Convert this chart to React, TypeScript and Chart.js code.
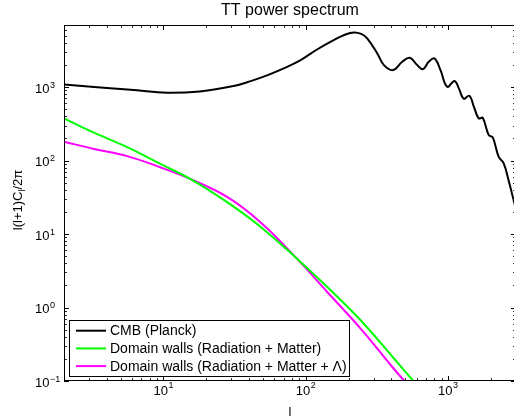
import React, { useEffect, useRef } from "react";
import { Chart, registerables } from "chart.js";

Chart.register(...registerables);

// ---- data ----
const cmbL = [2, 3.6, 6.2, 10.6, 18, 31, 41, 54, 70, 92, 120, 157, 190, 218, 245, 270, 318, 354, 411, 476, 538, 606, 667, 731, 802, 884, 985, 1109, 1190, 1286, 1409, 1518, 1640, 1750, 1930, 2060, 2265, 2455, 2660, 2885, 3000];
const cmbTT = [1088, 990, 912, 836, 874, 1032, 1207, 1456, 1796, 2328, 3250, 4350, 5200, 5550, 5300, 4600, 2870, 1993, 1703, 2210, 2508, 1993, 1758, 2210, 2455, 1703, 1009, 1207, 960, 693, 762, 540, 375, 382, 222, 207, 113, 92, 54, 29, 22];

const wallsRML = [2, 3.07, 5.56, 9.5, 15.5, 28, 48, 86, 141, 242, 415, 570];
const wallsRM = [375, 251, 152, 90, 56, 27.2, 12.6, 4.7, 1.92, 0.676, 0.204, 0.1];

const wallsRMLambdaL = [2, 3.24, 5.56, 9.5, 15.5, 28, 48, 86, 141, 242, 400, 493];
const wallsRMLambda = [181, 144, 115, 81, 56, 32, 14.5, 4.7, 1.64, 0.52, 0.16, 0.1];

const seriesLabels = [
  "CMB (Planck)",
  "Domain walls (Radiation + Matter)",
  "Domain walls (Radiation + Matter + \u039B)",
];
const seriesColors = ["#000000", "#00ff00", "#ff00ff"];

const xTickExps = [1, 2, 3];
const yTickExps = [-1, 0, 1, 2, 3];
const titleText = "TT power spectrum";
const xLabelText = "l";
const yLabelMain = "l(l+1)C";
const yLabelSub = "l";
const yLabelTail = "/2\u03C0";

const X_MIN = 2;
const X_MAX = 3000;
const Y_MIN = 0.1;
const Y_MAX = 7000;

const FONT = '"Liberation Sans", Arial, Helvetica, sans-serif';

const toPoints = (xs: number[], ys: number[]) => xs.map((x, i) => ({ x, y: ys[i] }));

const supText = (e: number) => (e < 0 ? "\u2212" + Math.abs(e) : String(e));

const matlabPlugin = {
  id: "matlabAxes",
  afterDatasetsDraw(chart: any) {
    const { ctx, chartArea: a, scales } = chart;
    const xs = scales.x;
    const ys = scales.y;
    ctx.save();

    const seg = (x1: number, y1: number, x2: number, y2: number) => {
      ctx.beginPath();
      ctx.moveTo(x1, y1);
      ctx.lineTo(x2, y2);
      ctx.stroke();
    };

    // ticks (inside, on all four sides)
    ctx.lineWidth = 1;
    for (let e = 0; e <= 4; e++) {
      for (let m = 1; m <= 9; m++) {
        const v = m * Math.pow(10, e);
        if (v < X_MIN || v > X_MAX) continue;
        const px = Math.round(xs.getPixelForValue(v)) + 0.5;
        const len = m === 1 ? 5 : 3;
        ctx.strokeStyle = m === 1 ? "#000" : "#333";
        seg(px, a.bottom, px, a.bottom - len);
        seg(px, a.top, px, a.top + len);
      }
    }
    for (let e = -1; e <= 4; e++) {
      for (let m = 1; m <= 9; m++) {
        const v = m * Math.pow(10, e);
        if (v < Y_MIN * 0.999 || v > Y_MAX) continue;
        const py = Math.round(ys.getPixelForValue(v)) + 0.5;
        const len = m === 1 ? 5 : 3;
        ctx.strokeStyle = m === 1 ? "#000" : "#333";
        seg(a.left, py, a.left + len, py);
        seg(a.right, py, a.right - len, py);
      }
    }

    // box
    ctx.strokeStyle = "#000";
    ctx.lineWidth = 1;
    ctx.strokeRect(a.left + 0.5, a.top + 0.5, a.right - a.left - 1, a.bottom - a.top - 1);

    // tick labels
    ctx.fillStyle = "#000";
    ctx.textBaseline = "alphabetic";
    const big = `13px ${FONT}`;
    const small = `9px ${FONT}`;
    for (const e of yTickExps) {
      const py = ys.getPixelForValue(Math.pow(10, e));
      ctx.font = big;
      ctx.textAlign = "left";
      ctx.fillText("10", 35, py + 5.6);
      const w = ctx.measureText("10").width;
      ctx.font = small;
      ctx.fillText(supText(e), 35 + w + 0.5, py + 0.6);
    }
    for (const e of xTickExps) {
      const px = xs.getPixelForValue(Math.pow(10, e));
      ctx.font = big;
      const w1 = ctx.measureText("10").width;
      ctx.font = small;
      const w2 = ctx.measureText(supText(e)).width;
      const start = px - (w1 + w2 + 0.5) / 2;
      ctx.textAlign = "left";
      ctx.font = big;
      ctx.fillText("10", start, 395);
      ctx.font = small;
      ctx.fillText(supText(e), start + w1 + 0.5, 388);
    }

    // title
    const cx = (a.left + a.right) / 2;
    ctx.font = `16px ${FONT}`;
    ctx.textAlign = "center";
    ctx.fillText(titleText, cx, 14.5);

    // x label
    ctx.font = `13px ${FONT}`;
    ctx.fillText(xLabelText, cx, 416);

    // y label (rotated, with subscript)
    ctx.save();
    ctx.translate(22, 200);
    ctx.rotate(-Math.PI / 2);
    ctx.textAlign = "left";
    ctx.font = `13px ${FONT}`;
    const wA = ctx.measureText(yLabelMain).width;
    const wC = ctx.measureText(yLabelTail).width;
    ctx.font = `9px ${FONT}`;
    const wB = ctx.measureText(yLabelSub).width;
    let sx = -(wA + wB + wC) / 2;
    ctx.font = `13px ${FONT}`;
    ctx.fillText(yLabelMain, sx, 0);
    sx += wA;
    ctx.font = `9px ${FONT}`;
    ctx.fillText(yLabelSub, sx, 3);
    sx += wB;
    ctx.font = `13px ${FONT}`;
    ctx.fillText(yLabelTail, sx, 0);
    ctx.restore();

    // legend
    const lx = 69.5;
    const ly = 320.5;
    const lw = 280;
    const lh = 56;
    ctx.fillStyle = "#fff";
    ctx.fillRect(lx, ly, lw, lh);
    ctx.strokeStyle = "#000";
    ctx.lineWidth = 1;
    ctx.strokeRect(lx, ly, lw, lh);
    ctx.font = `14px ${FONT}`;
    ctx.textAlign = "left";
    chart.data.datasets.forEach((ds: any, i: number) => {
      const rowY = 330.7 + i * 17.7;
      ctx.strokeStyle = ds.borderColor;
      ctx.lineWidth = 2;
      seg(76, rowY, 106, rowY);
      ctx.fillStyle = "#000";
      ctx.fillText(ds.label, 110, rowY + 4.4);
    });

    ctx.restore();
  },
};

export default function App() {
  const canvasRef = useRef<HTMLCanvasElement | null>(null);

  useEffect(() => {
    const canvas = canvasRef.current;
    if (!canvas) return;
    const seriesPoints = [
      toPoints(cmbL, cmbTT),
      toPoints(wallsRML, wallsRM),
      toPoints(wallsRMLambdaL, wallsRMLambda),
    ];
    const chart = new Chart(canvas, {
      type: "line",
      data: {
        datasets: seriesPoints.map((pts, i) => ({
          label: seriesLabels[i],
          data: pts,
          borderColor: seriesColors[i],
          backgroundColor: seriesColors[i],
          borderWidth: 2,
          pointRadius: 0,
          fill: false,
          tension: 0.4,
          borderJoinStyle: "round" as const,
        })),
      },
      options: {
        responsive: false,
        animation: false,
        devicePixelRatio: 1,
        layout: { padding: { left: 64, top: 25, right: 4, bottom: 37 } },
        plugins: {
          legend: { display: false },
          tooltip: { enabled: false },
          title: { display: false },
        },
        scales: {
          x: { type: "logarithmic", min: X_MIN, max: X_MAX, display: false },
          y: { type: "logarithmic", min: Y_MIN, max: Y_MAX, display: false },
        },
      },
      plugins: [matlabPlugin],
    });
    return () => chart.destroy();
  }, []);

  return (
    <div
      style={{
        position: "fixed",
        left: 0,
        top: 0,
        width: 514,
        height: 418,
        overflow: "hidden",
        background: "#fff",
      }}
    >
      <canvas ref={canvasRef} width={520} height={418} style={{ display: "block", width: 520, height: 418 }} />
    </div>
  );
}
